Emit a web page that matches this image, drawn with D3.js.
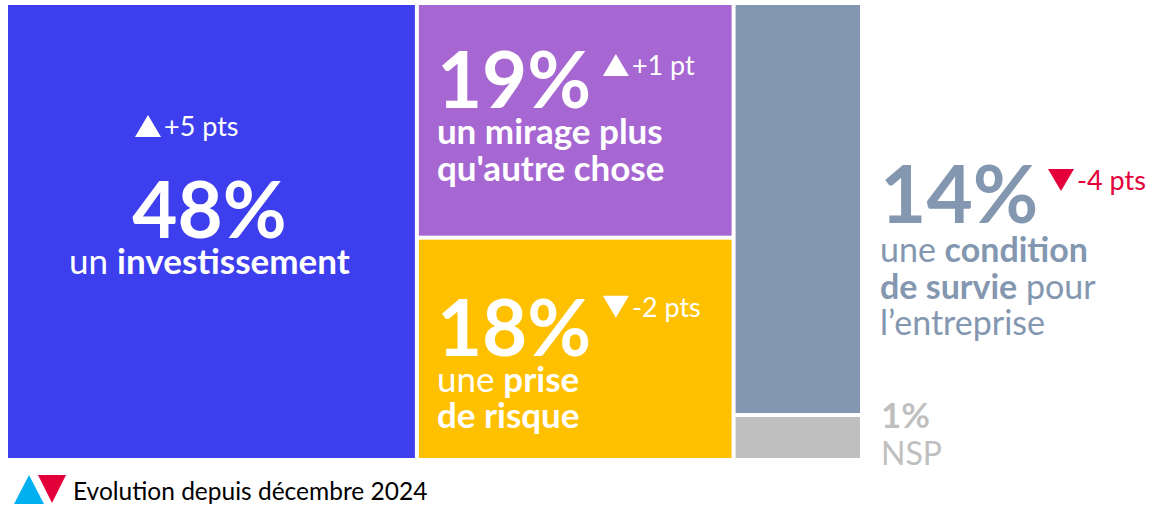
<!DOCTYPE html>
<html>
<head>
<meta charset="utf-8">
<script src="https://cdn.jsdelivr.net/npm/d3@7"></script>
<style>
    html, body { margin: 0; padding: 0; background: #ffffff; }
    svg { display: block; font-family: Lato, 'Open Sans', sans-serif; }
</style>
</head>
<body>
<div id="chart"></div>
<script>
// answers, grouped into the three columns of the treemap
const columns = ['c1', 'c2', 'c3'];
const answerColumn = ['c1', 'c2', 'c2', 'c3', 'c3'];
const answerValues = [48, 19, 18, 14, 1];
const answerChanges = [5, 1, -2, -4, null];
// label lines, each as [text, bold] segments
const answerLabels = [
    [[['un ', false], ['investissement', true]]],
    [[['un mirage plus', true]], [["qu'autre chose", true]]],
    [[['une ', false], ['prise', true]], [['de risque', true]]],
    [[['une ', false], ['condition', true]], [['de survie', true], [' pour', false]], [['l’entreprise', false]]],
    [[['NSP', false]]],
];
const legendLabel = 'Evolution depuis décembre 2024';

const colors = ['#3d3fee', '#a667d2', '#ffc000', '#8497b0', '#bfbfbf'];
const upColor = '#00b0f0';
const downColor = '#e4003b';

const width = 1161;
const height = 508;

const svg = d3.select('#chart')
    .append('svg')
    .attr('width', width)
    .attr('height', height);

const root = d3.hierarchy({
    children: columns.map((c) => ({
        children: answerValues
            .map((v, i) => ({ index: i, value: v }))
            .filter((d) => answerColumn[d.index] === c),
    })),
}).sum((d) => d.value || 0);

d3.treemap()
    .tile(d3.treemapSliceDice)
    .size([852, 453])
    .paddingInner(4)(root);

// keep tiny answers readable: give them at least a minimum height in their column
const minLeaf = 41;
root.children.forEach((col) => {
    const kids = col.children;
    kids.forEach((leaf, i) => {
        const h = leaf.y1 - leaf.y0;
        if (h < minLeaf && i > 0) {
            const diff = minLeaf - h;
            leaf.y0 -= diff;
            kids[i - 1].y1 -= diff;
        }
    });
});

const leaves = root.leaves();
const g = svg.append('g').attr('transform', 'translate(8, 5)');

g.selectAll('rect')
    .data(leaves)
    .enter()
    .append('rect')
    .attr('x', (d) => d.x0)
    .attr('y', (d) => d.y0)
    .attr('width', (d) => d.x1 - d.x0)
    .attr('height', (d) => d.y1 - d.y0)
    .attr('fill', (d) => colors[d.data.index]);

function arrow(parent, x, y, up, color, w = 26, h = 22) {
    const d = up
        ? `M${x},${y} L${x + w},${y} L${x + w / 2},${y - h} Z`
        : `M${x},${y - h} L${x + w},${y - h} L${x + w / 2},${y} Z`;
    parent.append('path').attr('d', d).attr('fill', color);
}

function changeText(v) {
    const sign = v > 0 ? '+' : '-';
    const unit = Math.abs(v) === 1 ? 'pt' : 'pts';
    return `${sign}${Math.abs(v)} ${unit}`;
}

function drawChange(parent, i, x, baseline, color, arrowColor) {
    const v = answerChanges[i];
    if (v === null) return;
    arrow(parent, x, baseline + 1, v > 0, arrowColor || color);
    parent.append('text')
        .attr('x', x + 29)
        .attr('y', baseline)
        .attr('fill', color)
        .attr('font-size', 27)
        .text(changeText(v));
}

function drawLines(parent, i, x, baseline, lineHeight, color, anchor, size) {
    answerLabels[i].forEach((line, k) => {
        const t = parent.append('text')
            .attr('x', x)
            .attr('y', baseline + k * lineHeight)
            .attr('fill', color)
            .attr('font-size', size)
            .attr('text-anchor', anchor || 'start');
        line.forEach(([txt, bold]) => {
            t.append('tspan')
                .attr('font-weight', bold ? 700 : 400)
                .text(txt);
        });
    });
}

function drawValue(parent, i, x, baseline, color, size, anchor) {
    parent.append('text')
        .attr('x', x)
        .attr('y', baseline)
        .attr('fill', color)
        .attr('font-size', size)
        .attr('font-weight', 700)
        .attr('text-anchor', anchor || 'start')
        .text(`${answerValues[i]}%`);
}

const labels = g.append('g');

leaves.forEach((leaf) => {
    const i = leaf.data.index;
    const { x0, x1, y0 } = leaf;
    if (i === 0) {
        const cx = (x0 + x1) / 2 - 2;
        drawChange(labels, i, x0 + 127, y0 + 131, '#ffffff');
        drawValue(labels, i, cx, y0 + 233, '#ffffff', 78, 'middle');
        drawLines(labels, i, cx, y0 + 269, 36, '#ffffff', 'middle', 35);
    } else if (i === 1 || i === 2) {
        const top = i === 1 ? 103 : 116;
        drawValue(labels, i, x0 + 18, y0 + top, '#ffffff', 78);
        drawChange(labels, i, x0 + 184, y0 + (i === 1 ? 70 : 77), '#ffffff');
        drawLines(labels, i, x0 + 18, y0 + top + 36, 36.5, '#ffffff', 'start', 35);
    } else if (i === 3) {
        drawValue(labels, i, x1 + 20, y0 + 218, colors[i], 80);
        drawChange(labels, i, x1 + 188, y0 + 185, downColor);
        drawLines(labels, i, x1 + 20, y0 + 257, 36.5, colors[i], 'start', 34);
    } else {
        drawValue(labels, i, x1 + 21, y0 + 11, colors[i], 35);
        drawLines(labels, i, x1 + 21, y0 + 48, 36, colors[i], 'start', 32);
    }
});

// legend
const legend = svg.append('g');
arrow(legend, 14, 504, true, upColor, 30, 29);
arrow(legend, 38, 503, false, downColor, 28, 28);
legend.append('text')
    .attr('x', 73)
    .attr('y', 500)
    .attr('font-size', 24.5)
    .attr('fill', '#000000')
    .text(legendLabel);
</script>
</body>
</html>
